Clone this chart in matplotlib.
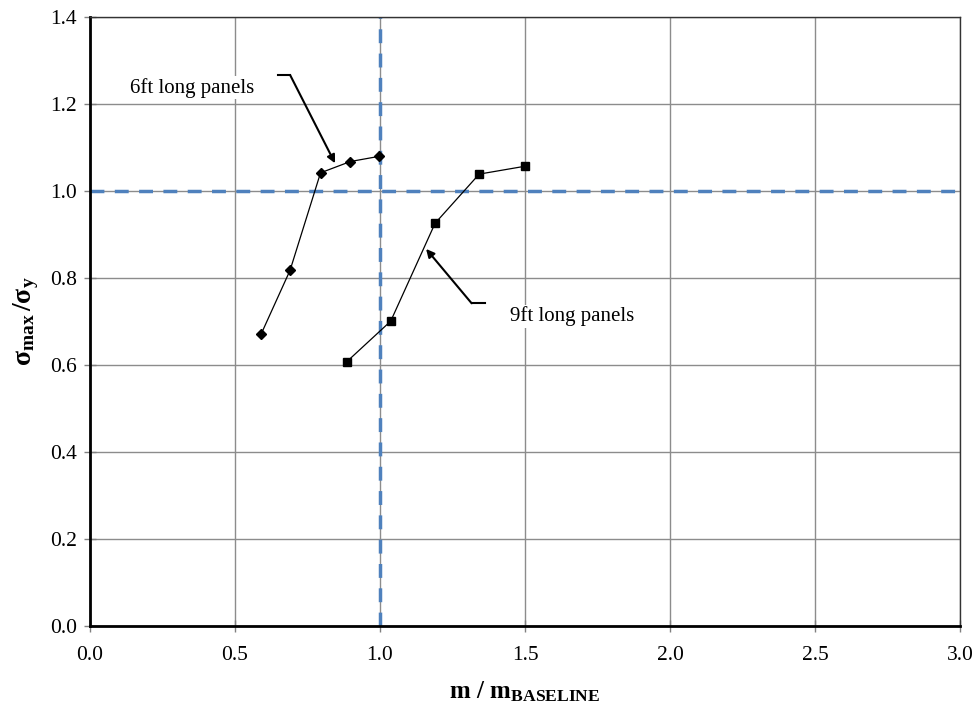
import matplotlib
matplotlib.use('Agg')
import matplotlib.pyplot as plt

plt.rcParams['font.family'] = 'Liberation Serif'
plt.rcParams['mathtext.fontset'] = 'custom'
plt.rcParams['mathtext.rm'] = 'Liberation Serif'
plt.rcParams['mathtext.it'] = 'Liberation Serif'
plt.rcParams['mathtext.bf'] = 'Liberation Serif:bold'

# 6ft long panels
x_6ft = [0.59, 0.69, 0.795, 0.898, 0.998]
y_6ft = [0.671, 0.818, 1.042, 1.068, 1.080]

# 9ft long panels
x_9ft = [0.886, 1.037, 1.19, 1.342, 1.499]
y_9ft = [0.608, 0.701, 0.926, 1.039, 1.057]

x_ticks = [0.0, 0.5, 1.0, 1.5, 2.0, 2.5, 3.0]
y_ticks = [0.0, 0.2, 0.4, 0.6, 0.8, 1.0, 1.2, 1.4]

fig = plt.figure(figsize=(9.76, 7.13), dpi=100)
ax = fig.add_axes([0.0922, 0.122, 0.8914, 0.854])

ax.grid(True, color='#8c8c8c', linewidth=1.0)
ax.set_axisbelow(True)

blue = '#4f81bd'
ax.axhline(1.0, color=blue, linewidth=2.5, dashes=(4, 3), zorder=2)
ax.axvline(1.0, color=blue, linewidth=2.5, dashes=(4, 3), zorder=2)

ax.plot(x_6ft, y_6ft, color='black', linewidth=0.9, marker='D', markersize=5, zorder=3)
ax.plot(x_9ft, y_9ft, color='black', linewidth=0.9, marker='s', markersize=6, zorder=3)

ax.set_xlim(0, 3.0)
ax.set_ylim(0, 1.4)
ax.set_xticks(x_ticks)
ax.set_yticks(y_ticks)
ax.set_xticklabels(['%.1f' % v for v in x_ticks])
ax.set_yticklabels(['%.1f' % v for v in y_ticks])
ax.tick_params(axis='both', labelsize=15.5, direction='inout', length=9, width=1, color='#808080')
ax.tick_params(axis='x', pad=10)
ax.tick_params(axis='y', pad=5)

for side in ['left', 'bottom']:
    ax.spines[side].set_linewidth(2)
    ax.spines[side].set_color('black')
for side in ['top', 'right']:
    ax.spines[side].set_linewidth(1)
    ax.spines[side].set_color('#333333')

ax.set_xlabel(r'$\mathbf{m\ /\ m_{BASELINE}}$', fontsize=18, labelpad=10)
ax.set_ylabel(r'$\mathbf{\sigma_{max}\,/\sigma_{y}}$', fontsize=20, labelpad=6)

# annotations with leader lines
ax.text(0.138, 1.238, '6ft long panels', fontsize=15, ha='left', va='center',
        bbox=dict(facecolor='white', edgecolor='none', pad=1), zorder=4)
ax.plot([0.648, 0.69], [1.267, 1.267], color='black', linewidth=1.5, zorder=4)
ax.annotate('', xy=(0.845, 1.064), xytext=(0.69, 1.267),
            arrowprops=dict(arrowstyle='-|>', color='black', lw=1.5, mutation_scale=12, shrinkA=0, shrinkB=0),
            zorder=4)

ax.text(1.448, 0.712, '9ft long panels', fontsize=15, ha='left', va='center',
        bbox=dict(facecolor='white', edgecolor='none', pad=1), zorder=4)
ax.plot([1.316, 1.362], [0.742, 0.742], color='black', linewidth=1.5, zorder=4)
ax.annotate('', xy=(1.159, 0.867), xytext=(1.316, 0.742),
            arrowprops=dict(arrowstyle='-|>', color='black', lw=1.5, mutation_scale=12, shrinkA=0, shrinkB=0),
            zorder=4)

fig.savefig('out.png', dpi=100)
